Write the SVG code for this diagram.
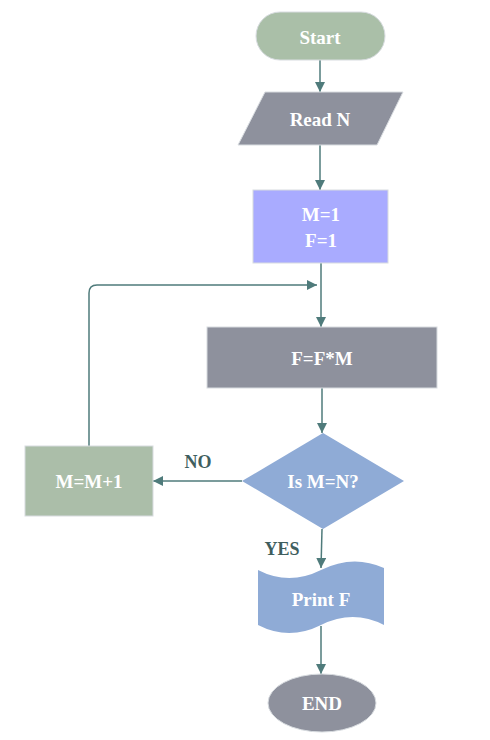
<svg xmlns="http://www.w3.org/2000/svg" width="490" height="740" viewBox="0 0 490 740">
<defs>
<marker id="ah" viewBox="0 0 10 10" refX="10" refY="5" markerWidth="10" markerHeight="10" markerUnits="userSpaceOnUse" orient="auto">
<path d="M0,0 L10,5 L0,10 z" fill="#4f7b7b"/>
</marker>
<style>
.t{font-family:"Liberation Serif","Times New Roman",serif;font-weight:bold;font-size:19px;fill:#ffffff;text-anchor:middle;dominant-baseline:central}
.l{font-family:"Liberation Serif","Times New Roman",serif;font-weight:bold;font-size:18px;fill:#3f5e5e;text-anchor:middle;dominant-baseline:central}
.c{fill:none;stroke:#4f7b7b;stroke-width:1.5;marker-end:url(#ah)}
.s{stroke:#d8dce0;stroke-width:1}
</style>
</defs>
<rect width="490" height="740" fill="#ffffff"/>
<g id="connectors">
<path class="c" d="M320,60 L320,92"/>
<path class="c" d="M320,145 L320,190"/>
<path class="c" d="M321,263 L321,327"/>
<path class="c" d="M89,446 L89,293 Q89,285 97,285 L317,285"/>
<path class="c" d="M322,388 L322,433"/>
<path class="c" d="M242,481 L153,481"/>
<path class="c" d="M322,529 L321,568"/>
<path class="c" d="M321,626 L321,674"/>
</g>
<g id="start">
<rect class="s" x="256" y="12" width="129" height="48" rx="24" fill="#aabfa8"/>
<text class="t" x="320" y="37">Start</text>
</g>
<g id="readN">
<polygon class="s" points="265,92 403,92 377,145 238,145" fill="#8e919d"/>
<text class="t" x="320" y="119">Read N</text>
</g>
<g id="init">
<rect class="s" x="253" y="190" width="135" height="73" fill="#a9abff"/>
<text class="t" x="321" y="214">M=1</text>
<text class="t" x="321" y="240">F=1</text>
</g>
<g id="mult">
<rect class="s" x="207" y="327" width="230" height="61" fill="#8e919d"/>
<text class="t" x="322" y="358">F=F*M</text>
</g>
<g id="decision">
<polygon points="323,433 404,481 323,529 242,481" fill="#8fabd6"/>
<text class="t" x="323" y="481">Is M=N?</text>
</g>
<g id="inc">
<rect class="s" x="25" y="446" width="128" height="70" fill="#abbea9"/>
<text class="t" x="89" y="481">M=M+1</text>
</g>
<g id="print">
<path d="M258,570 Q289,586 321,570 T384,568 L384,625 Q353,609 321,625 T258,625 Z" fill="#8fabd6"/>
<text class="t" x="321" y="599">Print F</text>
</g>
<g id="end">
<ellipse class="s" cx="322" cy="703" rx="54" ry="29" fill="#8e919d"/>
<text class="t" x="322" y="703">END</text>
</g>
<g id="labels">
<text class="l" x="198" y="462">NO</text>
<text class="l" x="282" y="549">YES</text>
</g>
</svg>
